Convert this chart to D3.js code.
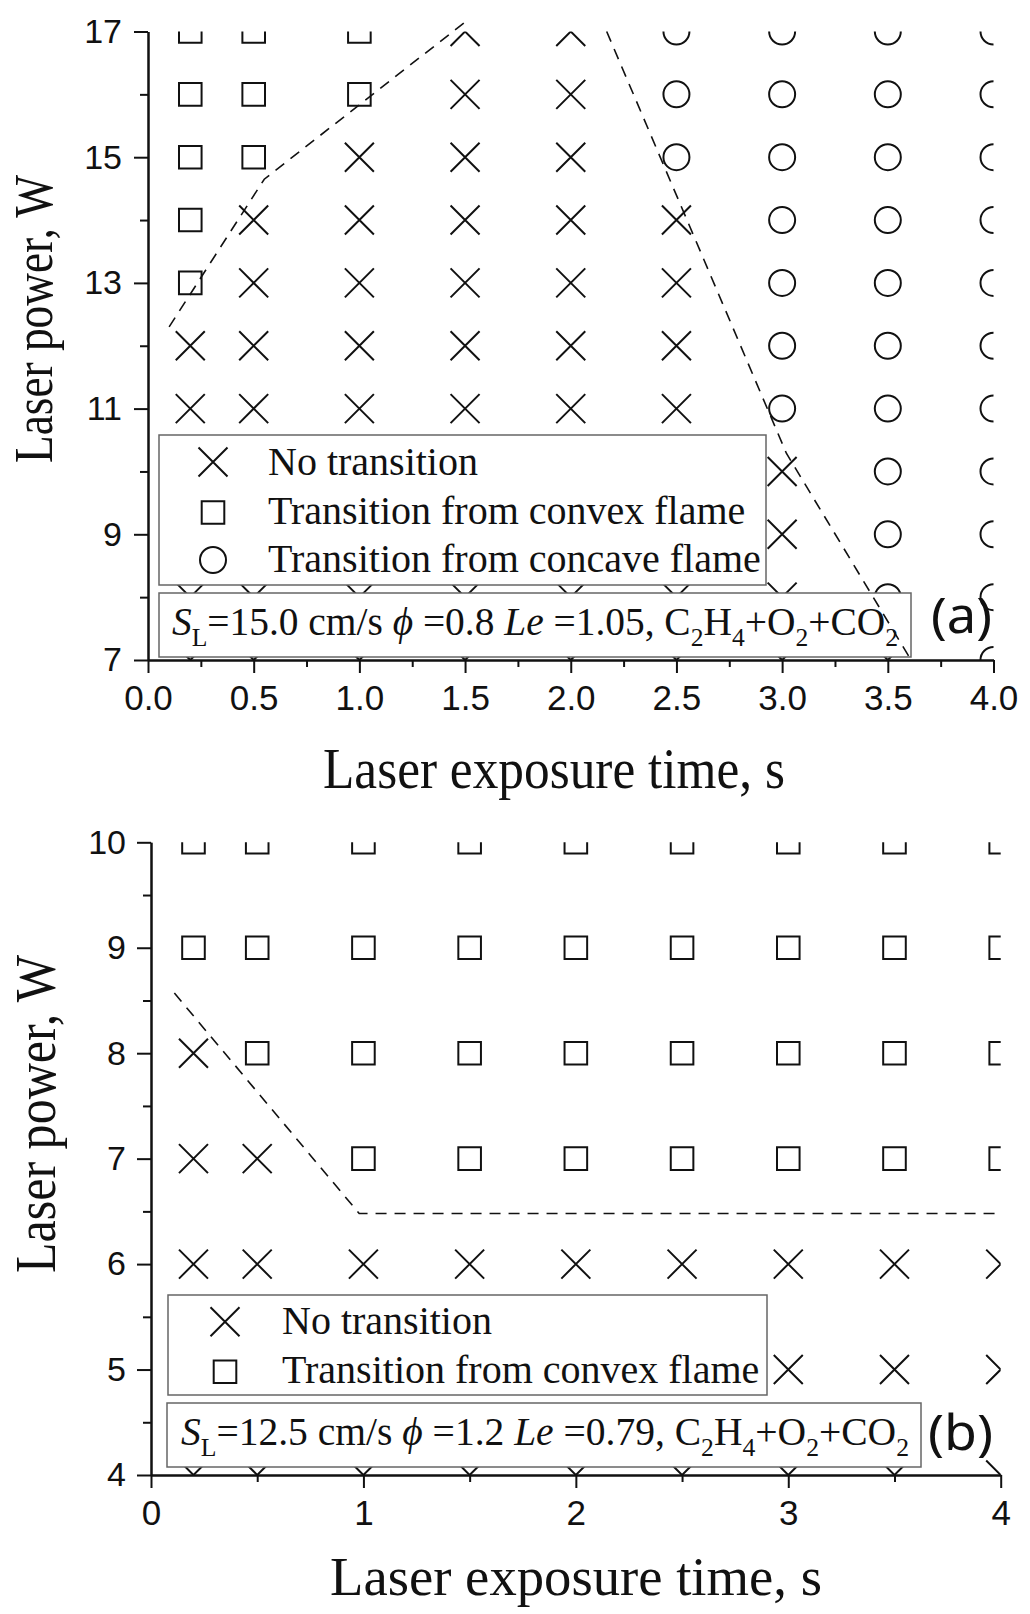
<!DOCTYPE html>
<html>
<head>
<meta charset="utf-8">
<script src="https://cdn.jsdelivr.net/npm/d3@7"></script>
<style>
  body { margin: 0; background: #fff; }
  svg { display: block; }
</style>
</head>
<body>
<div id="wrapper"></div>
<script>
// ---- data ----
const timesA = [0.2, 0.5, 1, 1.5, 2, 2.5, 3, 3.5, 4]
const powersA = [17, 16, 15, 14, 13, 12, 11, 10, 9, 8, 7]
// S = convex, X = no transition, O = concave
const regimeA = [
  "SSSXXOOOO",
  "SSSXXOOOO",
  "SSXXXOOOO",
  "SXXXXXOOO",
  "SXXXXXOOO",
  "XXXXXXOOO",
  "XXXXXXOOO",
  "XXXXXXXOO",
  "XXXXXXXOO",
  "XXXXXXXOO",
  "XXXXXXXXO"
]
const boundA1 = [[0.1, 12.3], [0.55, 14.65], [1.5, 17.15]]
const boundA2 = [[2.17, 17.0], [3.02, 10.29], [3.61, 7.0]]
const xTicksA = [0, 0.5, 1, 1.5, 2, 2.5, 3, 3.5, 4]
const yTicksA = [7, 9, 11, 13, 15, 17]

const timesB = [0.2, 0.5, 1, 1.5, 2, 2.5, 3, 3.5, 4]
const powersB = [10, 9, 8, 7, 6, 5, 4]
const regimeB = [
  "SSSSSSSSS",
  "SSSSSSSSS",
  "XSSSSSSSS",
  "XXSSSSSSS",
  "XXXXXXXXX",
  "XXXXXXXXX",
  "XXXXXXXXX"
]
const boundB = [[0.11, 8.57], [0.98, 6.48], [4.0, 6.48]]
const xTicksB = [0, 1, 2, 3, 4]
const yTicksB = [4, 5, 6, 7, 8, 9, 10]

const legendLabels = {
  X: "No transition",
  S: "Transition from convex flame",
  O: "Transition from concave flame"
}

const serif = "'Liberation Serif', 'Times New Roman', serif"
const sans = "'Liberation Sans', Arial, sans-serif"

const svg = d3.select("#wrapper")
  .append("svg")
    .attr("width", 1030)
    .attr("height", 1614)

svg.append("rect").attr("width", 1030).attr("height", 1614).attr("fill", "#fff")

// marker shapes
function markerPath(type) {
  if (type === "X") {
    const h = 14.5
    return `M${-h},${-h}L${h},${h}M${-h},${h}L${h},${-h}`
  }
  if (type === "S") {
    const h = 11.3
    return `M${-h},${-h}H${h}V${h}H${-h}Z`
  }
  const r = 13
  return `M${r},0A${r},${r} 0 1,1 ${-r},0A${r},${r} 0 1,1 ${r},0Z`
}

function drawPanel(cfg) {
  const x = d3.scaleLinear().domain([0, 4]).range(cfg.xRange)
  const y = d3.scaleLinear().domain(cfg.yDomain).range(cfg.yRange)
  const g = svg.append("g")

  const clipId = "clip" + cfg.id
  svg.append("defs").append("clipPath").attr("id", clipId)
    .append("rect")
      .attr("x", cfg.xRange[0]).attr("y", cfg.yRange[1])
      .attr("width", cfg.xRange[1] - cfg.xRange[0])
      .attr("height", cfg.yRange[0] - cfg.yRange[1])

  // points
  const pts = []
  cfg.powers.forEach((p, i) => {
    cfg.times.forEach((t, j) => {
      pts.push({t: t, p: p, type: cfg.regime[i][j]})
    })
  })
  g.append("g").attr("clip-path", `url(#${clipId})`)
    .selectAll("path").data(pts).join("path")
      .attr("transform", d => `translate(${x(d.t)},${y(d.p)})`)
      .attr("d", d => markerPath(d.type))
      .attr("fill", "none")
      .attr("stroke", "#111")
      .attr("stroke-width", 2)

  // axes
  const xAxis = g.append("g")
    .attr("transform", `translate(0,${cfg.yRange[0]})`)
    .call(d3.axisBottom(x).tickValues(cfg.xTicks).tickSize(13).tickSizeOuter(0)
      .tickPadding(12).tickFormat(cfg.xFormat))
  const xMinor = g.append("g")
    .attr("transform", `translate(0,${cfg.yRange[0]})`)
    .call(d3.axisBottom(x).tickValues(cfg.xMinor).tickSize(7).tickSizeOuter(0).tickFormat(""))
  const yAxis = g.append("g")
    .attr("transform", `translate(${cfg.xRange[0]},0)`)
    .call(d3.axisLeft(y).tickValues(cfg.yTicks).tickSize(14).tickSizeOuter(0)
      .tickPadding(cfg.yPad).tickFormat(d3.format("d")))
  const yMinor = g.append("g")
    .attr("transform", `translate(${cfg.xRange[0]},0)`)
    .call(d3.axisLeft(y).tickValues(cfg.yMinor).tickSize(8).tickSizeOuter(0).tickFormat(""))

  ;[xAxis, xMinor, yAxis, yMinor].forEach(a => {
    a.select(".domain").attr("stroke", "#111").attr("stroke-width", 2)
    a.selectAll(".tick line").attr("stroke", "#111").attr("stroke-width", 2)
    a.selectAll("text").attr("fill", "#111").attr("font-family", sans)
  })
  xAxis.selectAll("text").attr("font-size", 35)
  yAxis.selectAll("text").attr("font-size", 34)

  // legend box
  const lg = cfg.legend
  g.append("rect")
    .attr("x", lg.x0).attr("y", lg.y0)
    .attr("width", lg.x1 - lg.x0).attr("height", lg.y1 - lg.y0)
    .attr("fill", "#fff").attr("stroke", "#666").attr("stroke-width", 1.5)
  lg.keys.forEach((k, i) => {
    const cy = lg.rowY[i]
    g.append("path")
      .attr("transform", `translate(${lg.symX},${cy})`)
      .attr("d", markerPath(k))
      .attr("fill", "none").attr("stroke", "#111").attr("stroke-width", 2)
    g.append("text")
      .attr("x", lg.textX).attr("y", lg.baseY[i])
      .attr("font-family", serif).attr("font-size", 40)
      .attr("fill", "#111")
      .text(legendLabels[k])
  })

  // condition box
  const cb = cfg.condBox
  g.append("rect")
    .attr("x", cb.x0).attr("y", cb.y0)
    .attr("width", cb.x1 - cb.x0).attr("height", cb.y1 - cb.y0)
    .attr("fill", "#fff").attr("stroke", "#666").attr("stroke-width", 1.5)
  const ct = g.append("text")
    .attr("x", cb.textX).attr("y", cb.baseY)
    .attr("font-family", serif).attr("font-size", 40).attr("fill", "#111")
    .attr("textLength", cb.len).attr("lengthAdjust", "spacingAndGlyphs")
  let shift = 0
  cfg.condText.forEach(seg => {
    const sp = ct.append("tspan").text(seg[0])
    const want = seg[1] === "sub" ? 11 : 0
    if (want !== shift) { sp.attr("dy", want - shift); shift = want }
    if (seg[1] === "i") sp.attr("font-style", "italic")
    if (seg[1] === "sub") sp.attr("font-size", 26)
  })

  // boundary lines
  const line = d3.line().x(d => x(d[0])).y(d => y(d[1]))
  cfg.bounds.forEach(b => {
    g.append("path")
      .attr("d", line(b))
      .attr("fill", "none")
      .attr("stroke", "#111")
      .attr("stroke-width", 1.6)
      .attr("stroke-dasharray", "11,8")
  })

  // panel label
  g.append("text")
    .attr("x", cfg.tag.x).attr("y", cfg.tag.y)
    .attr("font-family", "'Noto Sans', 'Open Sans', sans-serif")
    .attr("font-size", 50).attr("fill", "#111")
    .attr("textLength", cfg.tag.len).attr("lengthAdjust", "spacingAndGlyphs")
    .text(cfg.tag.text)

  // axis titles
  g.append("text")
    .attr("x", cfg.xTitle.cx).attr("y", cfg.xTitle.y)
    .attr("text-anchor", "middle")
    .attr("font-family", serif).attr("font-size", cfg.xTitle.size).attr("fill", "#111")
    .attr("textLength", cfg.xTitle.len).attr("lengthAdjust", "spacingAndGlyphs")
    .text("Laser exposure time, s")
  g.append("text")
    .attr("transform", `translate(${cfg.yTitle.x},${cfg.yTitle.cy}) rotate(-90)`)
    .attr("text-anchor", "middle")
    .attr("font-family", serif).attr("font-size", cfg.yTitle.size).attr("fill", "#111")
    .attr("textLength", cfg.yTitle.len).attr("lengthAdjust", "spacingAndGlyphs")
    .text("Laser power, W")
}

drawPanel({
  id: "a",
  xRange: [148, 993.5], yDomain: [7, 17], yRange: [660, 31.5],
  times: timesA, powers: powersA, regime: regimeA,
  xTicks: xTicksA, xMinor: d3.range(0.25, 4, 0.5), xFormat: d3.format(".1f"),
  yTicks: yTicksA, yMinor: [8, 10, 12, 14, 16], yPad: 12,
  legend: {x0: 159, y0: 435, x1: 766, y1: 585, keys: ["X", "S", "O"],
    symX: 213, rowY: [462, 512.5, 560], textX: 268, baseY: [475, 524, 572]},
  condBox: {x0: 159, y0: 593, x1: 911, y1: 657, textX: 172, baseY: 635, len: 726},
  condText: [["S", "i"], ["L", "sub"], ["=15.0 cm/s ", ""], ["ϕ", "i"], [" =0.8 ", ""],
    ["Le", "i"], [" =1.05, C", ""], ["2", "sub"], ["H", ""], ["4", "sub"], ["+O", ""],
    ["2", "sub"], ["+CO", ""], ["2", "sub"]],
  bounds: [boundA1, boundA2],
  tag: {x: 931, y: 633, len: 61, text: "(a)"},
  xTitle: {cx: 554, y: 788, size: 57, len: 462},
  yTitle: {x: 52, cy: 319, size: 55, len: 288}
})

drawPanel({
  id: "b",
  xRange: [151, 1000.7], yDomain: [4, 10], yRange: [1475, 842.3],
  times: timesB, powers: powersB, regime: regimeB,
  xTicks: xTicksB, xMinor: d3.range(0.5, 4, 1), xFormat: d3.format("d"),
  yTicks: yTicksB, yMinor: d3.range(4.5, 10, 1), yPad: 11,
  legend: {x0: 168, y0: 1295, x1: 767, y1: 1395, keys: ["X", "S"],
    symX: 225, rowY: [1321.7, 1371.7], textX: 282, baseY: [1334, 1383]},
  condBox: {x0: 167, y0: 1403, x1: 921, y1: 1467, textX: 181, baseY: 1445, len: 728},
  condText: [["S", "i"], ["L", "sub"], ["=12.5 cm/s ", ""], ["ϕ", "i"], [" =1.2 ", ""],
    ["Le", "i"], [" =0.79, C", ""], ["2", "sub"], ["H", ""], ["4", "sub"], ["+O", ""],
    ["2", "sub"], ["+CO", ""], ["2", "sub"]],
  bounds: [boundB],
  tag: {x: 928, y: 1450, len: 65, text: "(b)"},
  xTitle: {cx: 576, y: 1595, size: 55, len: 492},
  yTitle: {x: 55, cy: 1114, size: 57, len: 318}
})
</script>
</body>
</html>
